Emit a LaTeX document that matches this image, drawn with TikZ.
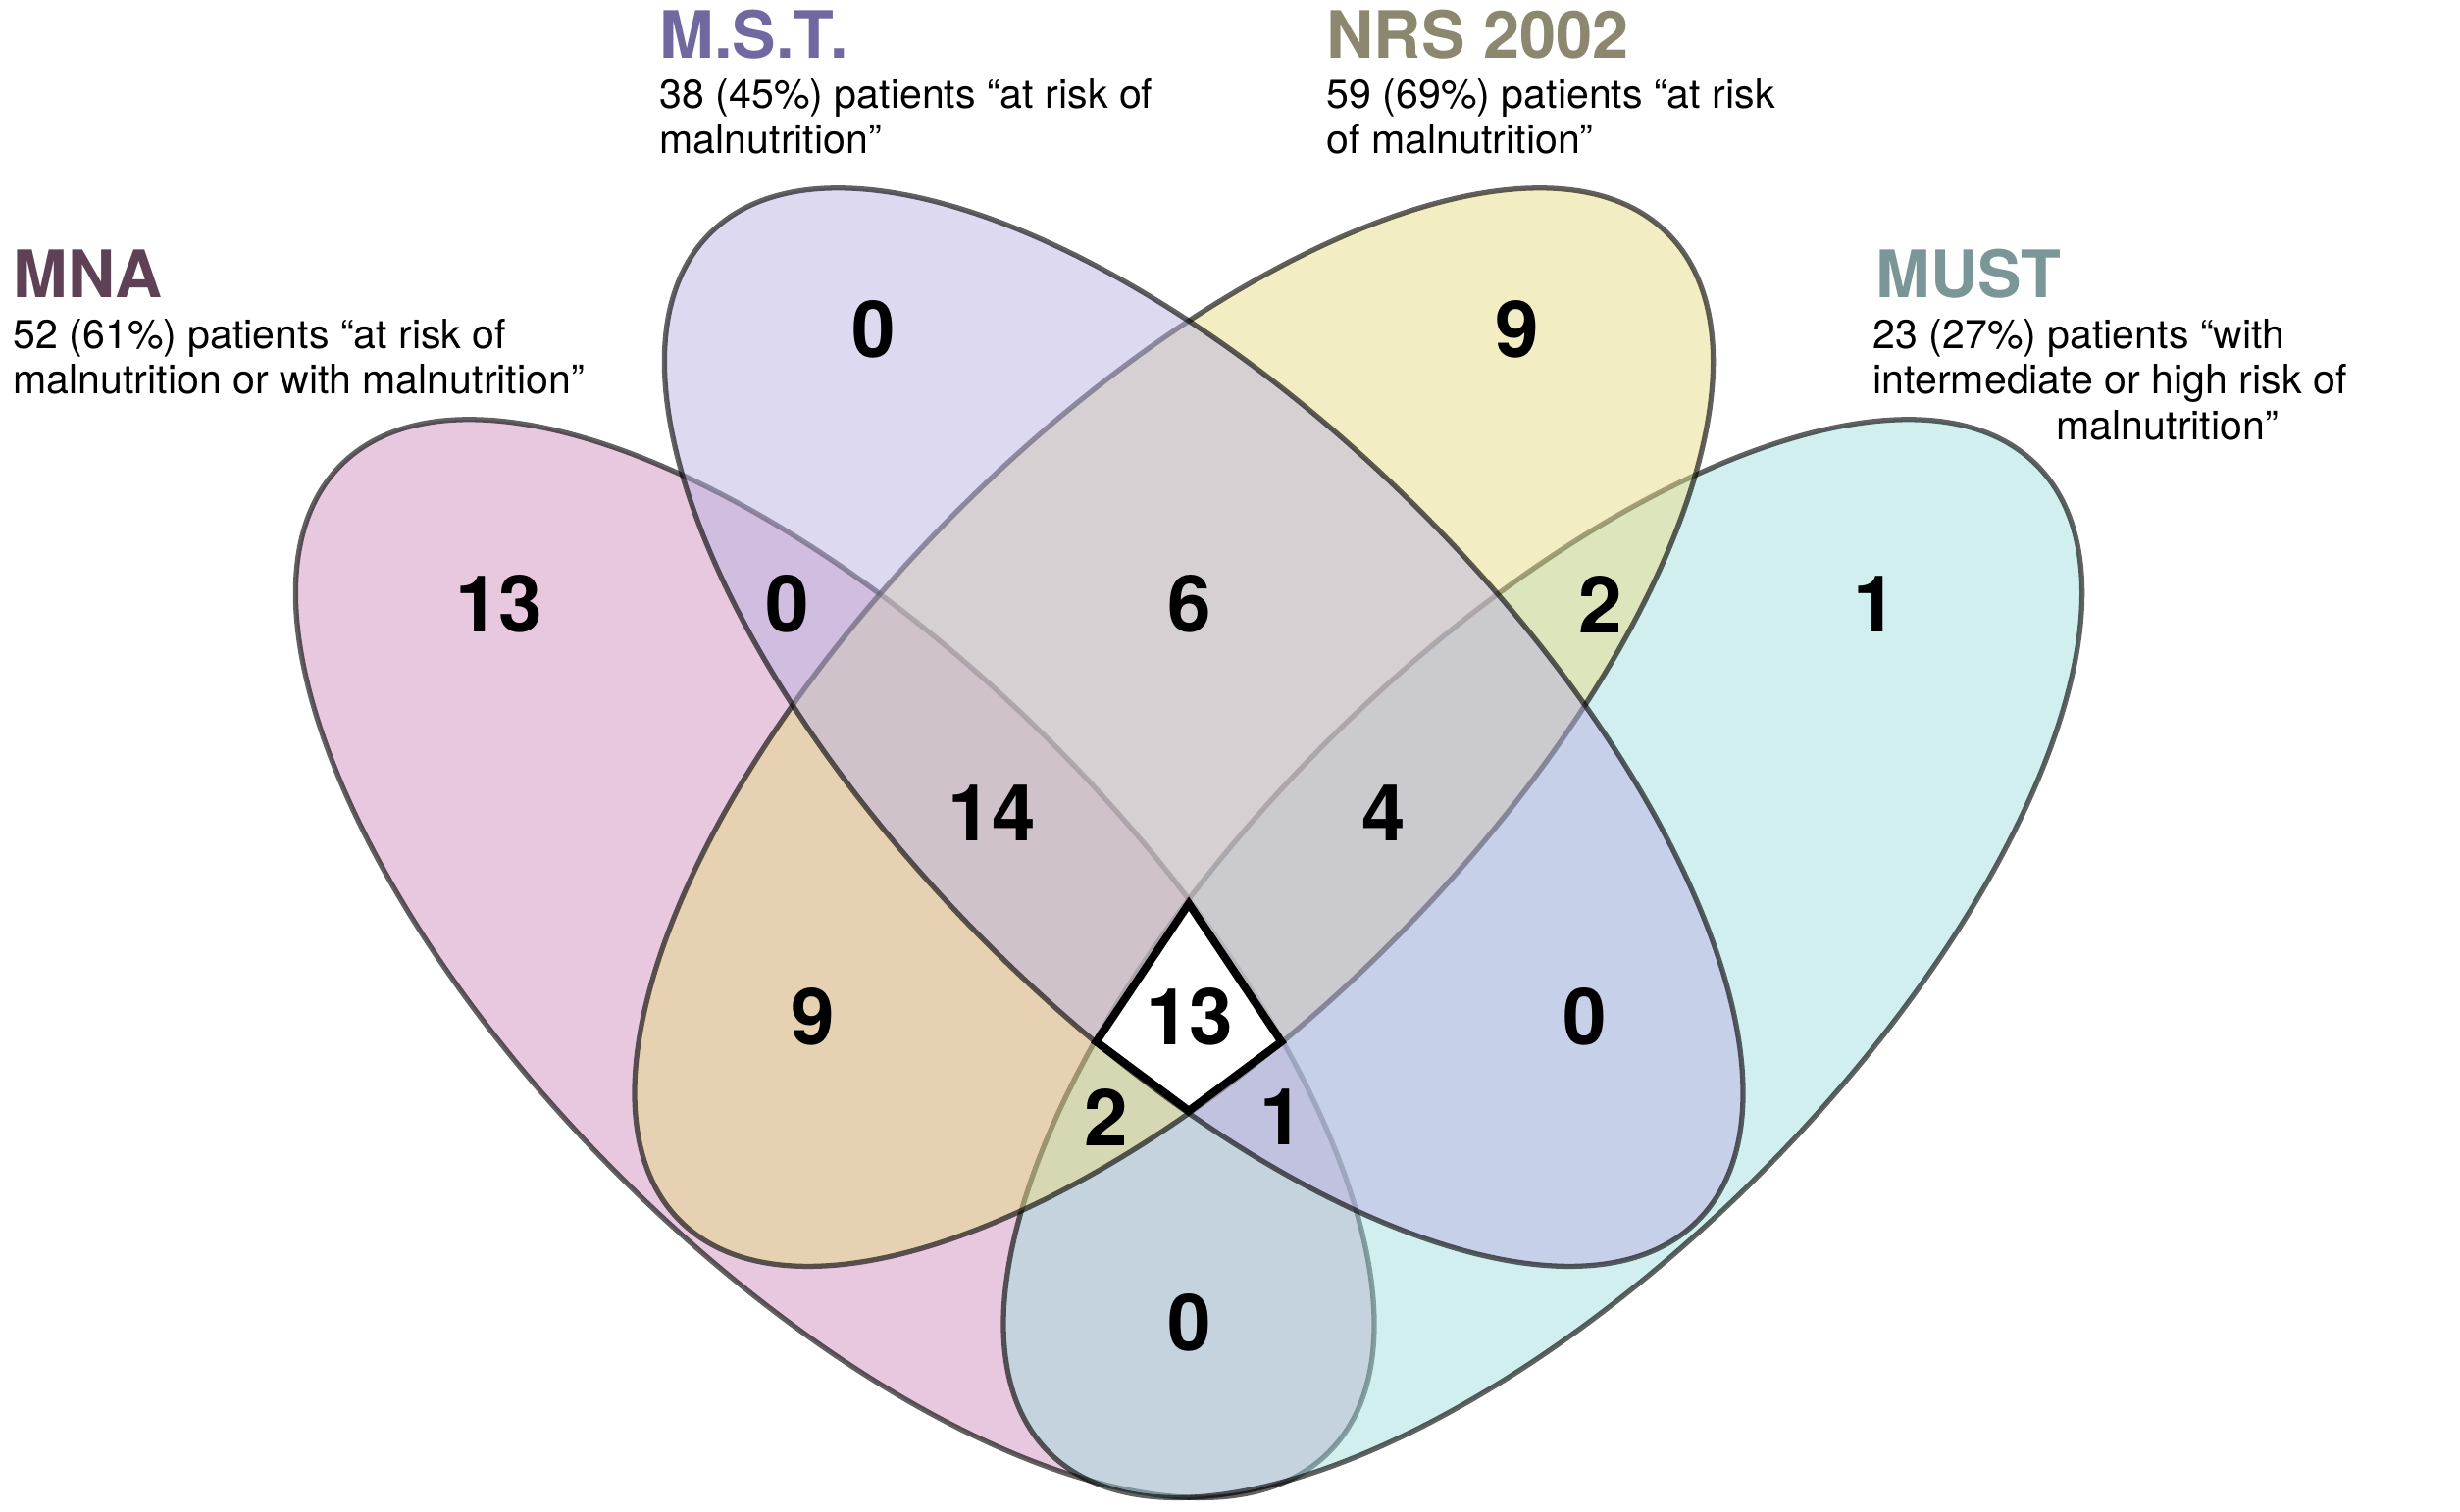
\documentclass[tikz,border=0pt]{standalone}
\usepackage{fontspec}
\setmainfont{TeX Gyre Heros}
\definecolor{mnaC}{RGB}{209,145,189}
\definecolor{mstC}{RGB}{187,179,227}
\definecolor{nrsC}{RGB}{231,219,137}
\definecolor{mustC}{RGB}{163,223,223}
\definecolor{mnaT}{RGB}{95,65,85}
\definecolor{mstT}{RGB}{112,104,160}
\definecolor{nrsT}{RGB}{140,136,112}
\definecolor{mustT}{RGB}{122,150,150}
\begin{document}
\begin{tikzpicture}[x=0.016cm,y=-0.016cm,
  setshape/.style={fill opacity=0.5, draw=black, draw opacity=0.62, line width=1.5pt},
  num/.style={font=\fontsize{22.8pt}{24pt}\selectfont\bfseries, inner sep=0pt},
  ttl/.style={font=\fontsize{19pt}{22pt}\selectfont\bfseries, anchor=base west, inner sep=0pt},
  txt/.style={font=\fontsize{11.7pt}{13.7pt}\selectfont, anchor=base west, inner sep=0pt}]
\useasboundingbox (0,0) rectangle (1567.5,963.125);
% sets, in drawing order
\path[setshape, fill=mnaC, rotate around={-45:(532,611)}] (532,611) ellipse (445 and 195);
\path[setshape, fill=mustC, rotate around={45:(983,611)}] (983,611) ellipse (445 and 195);
\path[setshape, fill=nrsC, rotate around={45:(748,463.5)}] (748,463.5) ellipse (445 and 195);
\path[setshape, fill=mstC, rotate around={-45:(767,463.5)}] (767,463.5) ellipse (445 and 195);
% central region
\draw[line width=2.3pt, fill=white, line join=miter] (757.5,576) -- (816.5,664) -- (757.5,708) -- (698.5,664) -- cycle;
% counts
\node[num] (mst0) at (557,210) {0};
\node[num] (nrs9) at (967,210) {9};
\node[num] (mna13) at (318,385) {13};
\node[num] (mnamst) at (502,385) {0};
\node[num] (mstnrs) at (758,385) {6};
\node[num] (nrsmust) at (1020,385) {2};
\node[num] (must1) at (1195,385) {1};
\node[num] (t14) at (632,518) {14};
\node[num] (t4) at (882,518) {4};
\node[num] (mnanrs) at (518,648) {9};
\node[num] (all) at (758,648) {13};
\node[num] (mstmust) at (1010,648) {0};
\node[num] (t2) at (705,712) {2};
\node[num] (t1) at (817,712) {1};
\node[num] (mnamust) at (758,843) {0};
% labels
\node[ttl, text=mnaT] (mnaT) at (8,190) {MNA};
\node[txt] (mnaA) at (8,222) {52 (61\%) patients “at risk of};
\node[txt] (mnaB) at (8,251) {malnutrition or with malnutrition”};
\node[ttl, text=mstT] (mstT) at (420,37) {M.S.T.};
\node[txt] (mstA) at (420,69) {38 (45\%) patients “at risk of};
\node[txt] (mstB) at (420,98) {malnutrition”};
\node[ttl, text=nrsT] (nrsT) at (845,37) {NRS 2002};
\node[txt] (nrsA) at (845,69) {59 (69\%) patients “at risk};
\node[txt] (nrsB) at (845,98) {of malnutrition”};
\node[ttl, text=mustT] (mustT) at (1195,190) {MUST};
\node[txt] (mustA) at (1193,222) {23 (27\%) patients “with};
\node[txt] (mustB) at (1193,251) {intermediate or high risk of};
\node[txt] (mustC) at (1310,280) {malnutrition”};
\end{tikzpicture}
\end{document}
